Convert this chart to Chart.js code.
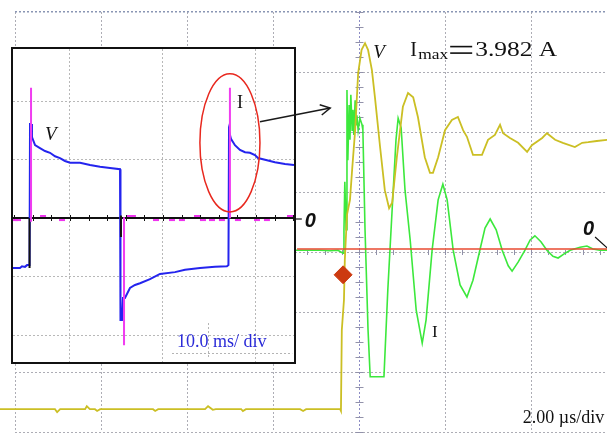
<!DOCTYPE html>
<html lang="en">
<head>
<meta charset="UTF-8">
<title>Scope capture</title>
<style>
  body { margin: 0; background: #fff; }
  #wrap { position: relative; width: 607px; height: 433px; overflow: hidden; background: #fff; }
  #mainChart { position: absolute; left: 0; top: 0; }
  #insetBox { position: absolute; left: 11px; top: 47px; width: 281px; height: 313px; border: 2px solid #111; background: #fff; }
  #insetChart { display: block; }
  #overlay { position: absolute; left: 0; top: 0; pointer-events: none; }
</style>
</head>
<body>
<div id="wrap">
  <canvas id="mainChart" width="607" height="433"></canvas>
  <div id="insetBox"><canvas id="insetChart" width="281" height="313"></canvas></div>
  <canvas id="overlay" width="607" height="433"></canvas>
</div>

<script src="https://cdn.jsdelivr.net/npm/chart.js"></script>
<script>
// main trace: time in µs (2 µs/div), amplitude in divisions
const vT = [-8.35,-7.07,-7.02,-6.95,-6.37,-6.33,-6.26,-6.14,-6.09,-6.02,-4.79,-4.74,-4.67,-3.58,-3.51,-3.40,-3.33,-2.74,-2.70,-2.63,-1.37,-1.30,-1.23,-0.44,-0.42,-0.40,-0.35,-0.33,-0.28,-0.21,-0.16,-0.09,-0.02,0.06,0.14,0.21,0.30,0.37,0.49,0.60,0.70,0.77,0.88,1.02,1.14,1.26,1.37,1.53,1.65,1.72,1.84,2.00,2.16,2.30,2.42,2.51,2.65,2.86,3.00,3.16,3.28,3.35,3.51,3.70,3.91,4.02,4.26,4.37,4.56,4.74,5.02,5.19,5.33,5.53,5.77];
const vY = [-2.62,-2.62,-2.67,-2.62,-2.62,-2.57,-2.62,-2.62,-2.65,-2.62,-2.62,-2.65,-2.62,-2.62,-2.57,-2.63,-2.62,-2.62,-2.65,-2.62,-2.62,-2.65,-2.62,-2.62,-2.65,-1.30,-0.80,-0.13,0.62,0.87,1.37,2.03,2.98,3.37,3.48,3.37,3.03,2.58,1.75,1.03,0.73,0.82,1.58,2.42,2.65,2.58,2.25,1.58,1.32,1.32,1.58,2.03,2.20,2.25,2.03,1.92,1.62,1.62,1.87,1.95,2.12,1.98,1.90,1.82,1.67,1.78,1.90,1.98,1.87,1.82,1.75,1.82,1.83,1.85,1.87];

const iT = [-1.47,-0.91,-0.67,-0.49,-0.42,-0.37,-0.35,-0.33,-0.30,-0.28,-0.26,-0.23,-0.21,-0.19,-0.16,-0.14,-0.12,-0.09,-0.07,-0.05,-0.02,0.02,0.07,0.09,0.14,0.21,0.26,0.58,0.67,0.77,0.86,0.91,0.98,1.07,1.19,1.33,1.47,1.56,1.70,1.84,1.95,2.05,2.19,2.35,2.51,2.65,2.81,2.93,3.05,3.19,3.33,3.47,3.56,3.70,3.86,3.98,4.09,4.23,4.37,4.51,4.63,4.77,4.91,5.14,5.30,5.44,5.60,5.77];
const iY = [0.03,0.03,0.02,0.03,0,-0.02,0.37,1.17,0.37,2.70,1.53,2.45,1.87,2.62,2.03,2.37,1.95,2.53,2.12,2.28,2.03,2.23,2.12,2.03,0.37,-1.30,-2.08,-2.08,-0.63,0.70,1.87,2.23,2.07,1.03,0.20,-0.97,-1.52,-1.13,0.03,0.87,1.13,0.87,0.03,-0.55,-0.75,-0.47,0.03,0.40,0.55,0.37,0.03,-0.23,-0.32,-0.17,0.03,0.20,0.27,0.17,0.03,-0.07,-0.10,-0.03,0.03,0.08,0.10,0.05,0.03,0.03];

const zeroT = [-1.44, 5.77];
const zeroY = [0.05, 0.05];
const trigT = [-0.37];
const trigY = [-0.38];

// inset: time in ms (10 ms/div), amplitude in divisions
const bT = [-16.13,-15.38,-15.16,-14.84,-14.62,-14.35,-14.30,-14.19,-14.09,-13.76,-13.23,-12.69,-12.15,-11.61,-11.08,-10.54,-10.00,-8.92,-7.85,-6.77,-5.70,-4.62,-4.57,-4.41,-4.30,-4.09,-3.55,-3.01,-2.47,-1.40,-0.32,1.29,2.37,3.98,5.59,6.88,7.04,7.10,7.20,7.31,7.74,8.28,8.82,9.35,9.89,10.22,10.97,12.04,13.12,14.09];
const bY = [-0.85,-0.85,-0.82,-0.83,-0.80,-0.80,1.61,1.61,1.39,1.25,1.20,1.15,1.12,1.06,1.03,0.98,0.95,0.95,0.91,0.88,0.86,0.84,-1.74,-1.74,-1.36,-1.36,-1.19,-1.14,-1.11,-1.04,-0.95,-0.92,-0.88,-0.85,-0.83,-0.82,-0.80,1.49,1.49,1.36,1.25,1.17,1.13,1.12,1.08,1.03,1.00,0.96,0.93,0.91];

const mT = [-14.19,-14.19,-14.19,-4.19,-4.19,-4.19,7.20,7.20];
const mY = [-0.06,2.23,null,0.02,-2.17,null,0,2.23];
const noiseT = [-15.91,-15.59,-12.90,-10.86,-3.55,-3.23,-0.75,0.97,2.04,3.66,4.30,5.27,6.34,8.06,10.11,11.18,13.66];
const noiseY = [-0.03,-0.03,0.04,-0.03,0.04,0.04,-0.03,-0.03,-0.03,0.04,-0.03,-0.03,-0.03,-0.03,-0.03,-0.03,0.04];
const kT = [-14.35,-14.35,-14.35,-4.52,-4.52];
const kY = [0,-0.85,null,0.05,-0.32];

const arrowFrom = [10.43, 1.65];  // inset units
const arrowTo = [-0.67, 2.40];    // main units

function pts(xs, ys) {
    return xs.map((x, i) => ({ x: x, y: ys[i] }));
}

const serif = '"Liberation Serif", "Times New Roman", serif';

const mainDeco = {
    id: 'mainDeco',
    beforeDatasetsDraw(chart) {
        const { ctx, scales: { x, y } } = chart;
        ctx.save();
        ctx.strokeStyle = '#9292aa';
        ctx.lineWidth = 1;
        const x0 = Math.round(x.getPixelForValue(0)) + 0.5;
        for (let v = -3; v <= 4; v += 0.25) {
            const py = Math.round(y.getPixelForValue(v)) + 0.5;
            ctx.beginPath(); ctx.moveTo(x0 - 4, py); ctx.lineTo(x0 + 4, py); ctx.stroke();
        }
        const y0 = Math.round(y.getPixelForValue(0));
        for (let t = -8; t <= 5.8; t += 0.4) {
            const px = Math.round(x.getPixelForValue(t)) + 0.5;
            ctx.beginPath(); ctx.moveTo(px, y0 - 2); ctx.lineTo(px, y0 + 3); ctx.stroke();
        }
        ctx.restore();
    },
    afterDatasetsDraw(chart) {
        const { ctx, scales: { x, y } } = chart;
        const X = v => x.getPixelForValue(v), Y = v => y.getPixelForValue(v);
        ctx.save();
        ctx.fillStyle = '#111';
        ctx.strokeStyle = '#111';

        ctx.font = 'italic 19px ' + serif;
        ctx.fillText('V', X(0.33), Y(3.23));

        // I_max = 3.982 A
        const ix = X(1.19), iy = Y(3.27);
        ctx.font = '20px ' + serif;
        ctx.fillText('I', ix, iy);
        ctx.font = '15px ' + serif;
        let w = ctx.measureText('max').width;
        ctx.save(); ctx.translate(ix + 8, iy + 3.5); ctx.scale(30 / w, 1); ctx.fillText('max', 0, 0); ctx.restore();
        ctx.fillRect(ix + 40, iy - 10, 22, 1.6);
        ctx.fillRect(ix + 40, iy - 3.5, 22, 1.6);
        ctx.font = '20px ' + serif;
        w = ctx.measureText('3.982 A').width;
        ctx.save(); ctx.translate(ix + 65, iy); ctx.scale(82 / w, 1); ctx.fillText('3.982 A', 0, 0); ctx.restore();

        ctx.font = '17px ' + serif;
        ctx.fillText('I', X(1.70), Y(-1.42));

        ctx.font = 'bold italic 20px "Liberation Sans", Arial, sans-serif';
        ctx.fillText('0', X(-1.26), Y(0.42));
        ctx.fillText('0', X(5.21), Y(0.28));
        ctx.lineWidth = 1.2;
        ctx.beginPath(); ctx.moveTo(X(-1.47), Y(0.55)); ctx.lineTo(X(-1.33), Y(0.55)); ctx.stroke();
        ctx.beginPath(); ctx.moveTo(X(5.49), Y(0.25)); ctx.lineTo(X(5.77), Y(0.07)); ctx.stroke();

        ctx.font = '18px ' + serif;
        ctx.fillText('2.00 \u00b5s/div', X(3.81), Y(-2.85));
        ctx.restore();
    }
};

const insetDeco = {
    id: 'insetDeco',
    beforeDatasetsDraw(chart) {
        const { ctx, chartArea: a, scales: { x, y } } = chart;
        const X = v => x.getPixelForValue(v), Y = v => y.getPixelForValue(v);
        ctx.save();
        ctx.strokeStyle = '#b4b4b4';
        ctx.lineWidth = 1;
        ctx.setLineDash([2, 2]);
        ctx.beginPath(); ctx.moveTo(Math.round(X(4.84)) + 0.5, Y(-1.79)); ctx.lineTo(Math.round(X(4.84)) + 0.5, Y(-2.37)); ctx.stroke();
        ctx.beginPath(); ctx.moveTo(X(0.97), Math.round(Y(-2.30)) + 0.5); ctx.lineTo(X(13.9), Math.round(Y(-2.30)) + 0.5); ctx.stroke();
        ctx.setLineDash([]);
        const y0 = Math.round(Y(0));
        ctx.strokeStyle = '#111';
        ctx.lineWidth = 2;
        ctx.beginPath(); ctx.moveTo(a.left, y0); ctx.lineTo(a.right, y0); ctx.stroke();
        ctx.lineWidth = 1;
        for (let t = -16; t <= 14.1; t += 2) {
            const px = Math.round(X(t)) + 0.5;
            ctx.beginPath(); ctx.moveTo(px, y0 - 3); ctx.lineTo(px, y0 + 3); ctx.stroke();
        }
        ctx.restore();
    },
    afterDatasetsDraw(chart) {
        const { ctx, scales: { x, y } } = chart;
        const X = v => x.getPixelForValue(v), Y = v => y.getPixelForValue(v);
        ctx.save();
        ctx.strokeStyle = '#e8281e';
        ctx.lineWidth = 1.5;
        const cx = X(7.20), cy = Y(1.29);
        ctx.beginPath();
        ctx.ellipse(cx, cy, X(7.20 + 3.23) - cx, Y(1.29 - 1.18) - cy, 0, 0, Math.PI * 2);
        ctx.stroke();

        ctx.fillStyle = '#111';
        ctx.font = 'italic 19px ' + serif;
        ctx.fillText('V', X(-12.69), Y(1.34));
        ctx.font = '18px ' + serif;
        ctx.fillText('I', X(7.96), Y(1.89));
        ctx.fillStyle = '#2b2bd8';
        ctx.fillText('10.0 ms/ div', X(1.51), Y(-2.20));
        ctx.restore();
    }
};

const gridColor = '#adadb5';

const mainChart = new Chart(document.getElementById('mainChart'), {
    type: 'scatter',
    data: {
        datasets: [
            {
                data: pts(trigT, trigY), showLine: false, pointStyle: 'rectRot', pointRadius: 9,
                pointBackgroundColor: '#cc3a10', pointBorderColor: '#cc3a10', order: 0
            },
            {
                data: pts(zeroT, zeroY), showLine: true, borderColor: '#e84a30', borderWidth: 1.6,
                pointRadius: 0, order: 1
            },
            {
                data: pts(vT, vY), showLine: true, borderColor: '#cbbf24', borderWidth: 1.8,
                pointRadius: 0, clip: false, order: 2
            },
            {
                data: pts(iT, iY), showLine: true, borderColor: '#3ce83c', borderWidth: 1.6,
                pointRadius: 0, order: 3
            }
        ]
    },
    options: {
        responsive: false,
        animation: false,
        events: [],
        layout: { autoPadding: false, padding: { left: 15, top: 12, right: 0, bottom: 1 } },
        plugins: { legend: { display: false }, tooltip: { enabled: false } },
        scales: {
            x: {
                type: 'linear', min: -8, max: 5.767,
                ticks: { display: false, stepSize: 2, includeBounds: false },
                grid: { color: c => c.tick && c.tick.value === 0 ? '#8c8cc4' : gridColor, drawTicks: false },
                border: { display: false, dash: [2, 2] }
            },
            y: {
                type: 'linear', min: -3, max: 4,
                ticks: { display: false, stepSize: 1, includeBounds: false },
                grid: {
                    color: c => c.tick && c.tick.value === 4 ? '#8a96b4' : gridColor,
                    lineWidth: c => c.tick && c.tick.value === 4 ? 1.5 : 1,
                    drawTicks: false
                },
                border: { display: false, dash: [2, 2] }
            }
        }
    },
    plugins: [mainDeco]
});

const insetChart = new Chart(document.getElementById('insetChart'), {
    type: 'scatter',
    data: {
        datasets: [
            {
                data: pts(noiseT, noiseY), showLine: false, pointStyle: 'line', pointRadius: 3,
                pointBorderColor: '#ee33ee', pointBorderWidth: 2, order: 0
            },
            {
                data: pts(mT, mY), showLine: true, spanGaps: false, borderColor: '#f03cf0', borderWidth: 2,
                pointRadius: 0, order: 1
            },
            {
                data: pts(kT, kY), showLine: true, spanGaps: false, borderColor: '#111', borderWidth: 2,
                pointRadius: 0, order: 2
            },
            {
                data: pts(bT, bY), showLine: true, borderColor: '#2424ee', borderWidth: 2,
                pointRadius: 0, order: 3
            }
        ]
    },
    options: {
        responsive: false,
        animation: false,
        events: [],
        layout: { autoPadding: false, padding: 0 },
        plugins: { legend: { display: false }, tooltip: { enabled: false } },
        scales: {
            x: {
                type: 'linear', min: -16.13, max: 14.09,
                ticks: { display: false, stepSize: 10, includeBounds: false },
                grid: { color: '#b8b8b8', drawTicks: false },
                border: { display: false, dash: [2, 2] }
            },
            y: {
                type: 'linear', min: -2.456, max: 2.894,
                ticks: { display: false, stepSize: 1, includeBounds: false },
                grid: { color: c => c.tick && c.tick.value === 0 ? 'rgba(0,0,0,0)' : '#b8b8b8', drawTicks: false },
                border: { display: false, dash: [2, 2] }
            }
        }
    },
    plugins: [insetDeco]
});

// arrow from the circled spike to the expanded view
(function drawArrow() {
    const ov = document.getElementById('overlay').getContext('2d');
    const wb = document.getElementById('wrap').getBoundingClientRect();
    const ib = document.getElementById('insetChart').getBoundingClientRect();
    const sx = ib.left - wb.left + insetChart.scales.x.getPixelForValue(arrowFrom[0]);
    const sy = ib.top - wb.top + insetChart.scales.y.getPixelForValue(arrowFrom[1]);
    const ex = mainChart.scales.x.getPixelForValue(arrowTo[0]);
    const ey = mainChart.scales.y.getPixelForValue(arrowTo[1]);
    ov.strokeStyle = '#1a1a1a';
    ov.lineWidth = 1.5;
    ov.beginPath(); ov.moveTo(sx, sy); ov.lineTo(ex, ey); ov.stroke();
    const ang = Math.atan2(ey - sy, ex - sx);
    ov.beginPath();
    ov.moveTo(ex - 11 * Math.cos(ang - 0.5), ey - 11 * Math.sin(ang - 0.5));
    ov.lineTo(ex, ey);
    ov.lineTo(ex - 11 * Math.cos(ang + 0.5), ey - 11 * Math.sin(ang + 0.5));
    ov.stroke();
})();
</script>
</body>
</html>
